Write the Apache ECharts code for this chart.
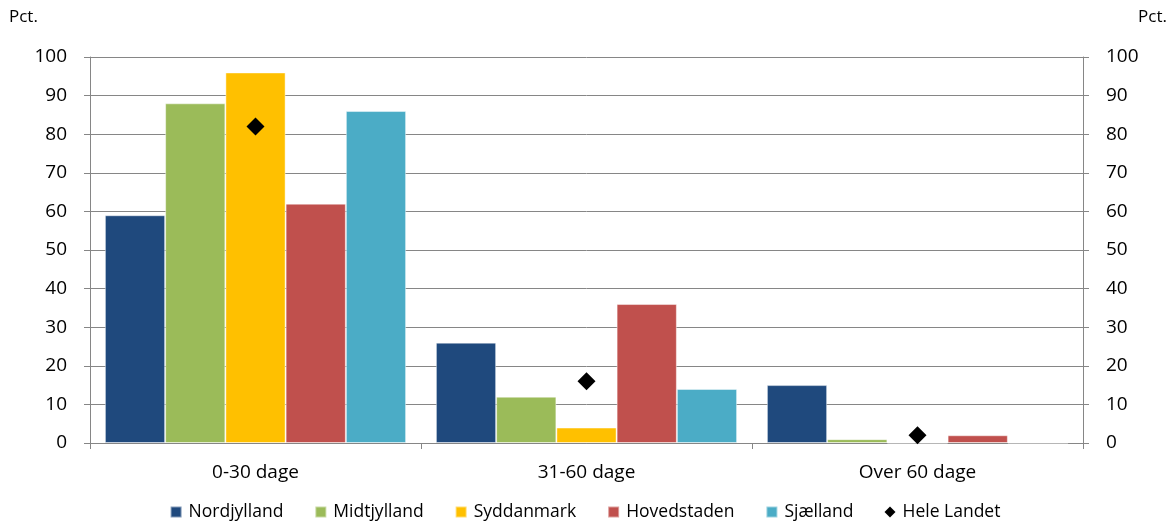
<!DOCTYPE html>
<html><head><meta charset="utf-8">
<script src="https://cdn.jsdelivr.net/npm/echarts@6/dist/echarts.min.js"></script>
<style>html,body{margin:0;padding:0;background:#fff}#c{width:1170px;height:522px}</style>
</head><body><div id="c"></div>
<script>
const categories = ['0-30 dage', '31-60 dage', 'Over 60 dage'];
const nordjylland = [59, 26, 15];
const midtjylland = [88, 12, 1];
const syddanmark = [96, 4, 0];
const hovedstaden = [62, 36, 2];
const sjaelland = [86, 14, 0];
const heleLandet = [82, 16, 2];
const yTicks = [0, 10, 20, 30, 40, 50, 60, 70, 80, 90, 100];
const unitLabel = 'Pct.';

const font = '"Open Sans", "Noto Sans", sans-serif';
const chart = echarts.init(document.getElementById('c'));
function bar(name, data, color) {
  return { name, type: 'bar', data, barGap: '0%', barCategoryGap: '9%',
    itemStyle: { color, borderColor: 'rgba(255,255,255,0.45)', borderWidth: 1 }, yAxisIndex: 0 };
}
const yCommon = {
  type: 'value', min: 0, max: 100, interval: 10,
  axisLine: { show: true, lineStyle: { color: '#868686', width: 1 } },
  axisTick: { show: true, length: 6, lineStyle: { color: '#868686' } },
  axisLabel: { color: '#000', fontSize: 19, fontFamily: font, margin: 23,
    formatter: v => yTicks.includes(v) ? String(v) : '' },
};
chart.setOption({
  animation: false,
  graphic: [
    { type: 'text', left: 9, top: 9, style: { text: unitLabel, fill: '#000', fontSize: 17, fontFamily: font } },
    { type: 'text', right: 3, top: 9, style: { text: unitLabel, fill: '#000', fontSize: 17, fontFamily: font } }
  ],
  grid: { left: 90, right: 87, top: 57, bottom: 79, containLabel: false },
  legend: {
    top: 498, left: 'center', itemWidth: 11, itemHeight: 11, itemGap: 31,
    textStyle: { color: '#000', fontSize: 17.5, fontFamily: font, padding: [0, 0, 0, 2] },
    data: [
      { name: 'Nordjylland', icon: 'rect' }, { name: 'Midtjylland', icon: 'rect' },
      { name: 'Syddanmark', icon: 'rect' }, { name: 'Hovedstaden', icon: 'rect' },
      { name: 'Sjælland', icon: 'rect' }, { name: 'Hele Landet', icon: 'diamond' }
    ]
  },
  xAxis: {
    type: 'category', data: categories,
    axisLine: { lineStyle: { color: '#868686' } },
    axisTick: { show: true, length: 6, lineStyle: { color: '#868686' } },
    axisLabel: { color: '#000', fontSize: 19, fontFamily: font, margin: 20 }
  },
  yAxis: [
    Object.assign({}, yCommon, { position: 'left',
      splitLine: { show: true, lineStyle: { color: '#868686', width: 1 } } }),
    Object.assign({}, yCommon, { position: 'right', splitLine: { show: false } })
  ],
  series: [
    bar('Nordjylland', nordjylland, '#1F497D'),
    bar('Midtjylland', midtjylland, '#9BBB59'),
    bar('Syddanmark', syddanmark, '#FFC000'),
    bar('Hovedstaden', hovedstaden, '#C0504D'),
    bar('Sjælland', sjaelland, '#4BACC6'),
    { name: 'Hele Landet', type: 'scatter', data: heleLandet, symbol: 'diamond', symbolSize: [18, 18],
      itemStyle: { color: '#000', opacity: 1 }, z: 5 }
  ]
});
</script></body></html>
